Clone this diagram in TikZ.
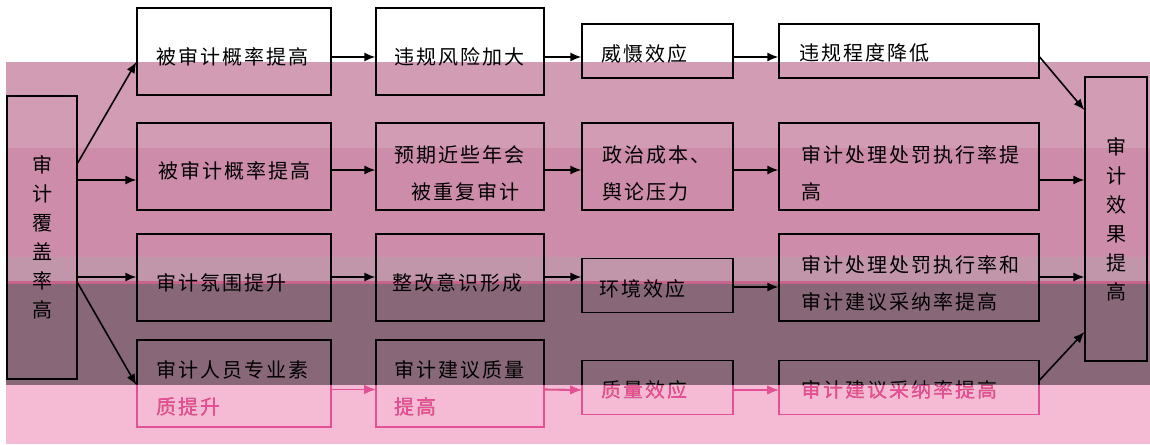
\documentclass[tikz,border=0pt]{standalone}
\usepackage{fontspec}
\newfontfamily\cjk[LetterSpace=10]{Noto Sans CJK SC}
\usetikzlibrary{calc,arrows.meta}
\definecolor{bandA}{RGB}{210,156,180}
\definecolor{bandB}{RGB}{204,140,170}
\definecolor{bandC}{RGB}{193,150,171}
\definecolor{bandS}{RGB}{200,100,140}
\definecolor{bandD}{RGB}{136,104,120}
\definecolor{bandE}{RGB}{245,186,212}
\definecolor{bandEink}{RGB}{228,80,150}
\begin{document}
\begin{tikzpicture}[x=1pt,y=-1pt,
  box/.style={draw=black, line width=1.3pt, inner sep=0pt},
  tall/.style={box, minimum height=87pt},
  short/.style={box, minimum height=54pt},
  txt/.style={anchor=west, inner sep=0pt, align=left, font=\cjk\fontsize{20}{37}\selectfont},
  vtxt/.style={align=center, font=\cjk\fontsize{20}{29}\selectfont},
  arr/.style={line width=1.6pt, -{Latex[length=11pt,width=9pt]}},
]
\useasboundingbox (0,0) rectangle (1150,444);
% background bands
\fill[white] (0,0) rectangle (1150,444);
\fill[bandA] (6,62) rectangle (1150,148);
\fill[bandB] (6,148) rectangle (1150,257);
\fill[bandC] (6,257) rectangle (1150,281);
\fill[bandS] (6,281) rectangle (1150,284);
\fill[bandD] (6,284) rectangle (1150,385);
\fill[bandE] (6,385) rectangle (1150,444);

% side boxes
\node[box, minimum width=70pt, minimum height=283pt, vtxt] (L) at (42,237.5) {审\\计\\覆\\盖\\率\\高};
\node[box, minimum width=62pt, minimum height=284pt, vtxt] (R) at (1116,219) {审\\计\\效\\果\\提\\高};

% row 1
\node[tall, minimum width=194pt] (r1a) at (234,51.5) {};
\node[tall, minimum width=168pt] (r1b) at (460,51.5) {};
\node[short, minimum width=151pt] (r1c) at (657.5,51) {};
\node[short, minimum width=260pt] (r1d) at (909,51) {};
% row 2
\node[tall, minimum width=194pt] (r2a) at (234,166.5) {};
\node[tall, minimum width=168pt] (r2b) at (460,166.5) {};
\node[tall, minimum width=151pt] (r2c) at (657.5,166.5) {};
\node[tall, minimum width=260pt] (r2d) at (909,166.5) {};
% row 3
\node[tall, minimum width=194pt] (r3a) at (234,277.5) {};
\node[tall, minimum width=168pt] (r3b) at (460,277.5) {};
\node[short, minimum width=151pt] (r3c) at (657.5,285.5) {};
\node[tall, minimum width=260pt] (r3d) at (909,277.5) {};
% row 4
\node[tall, minimum width=194pt] (r4a) at (234,383.5) {};
\node[tall, minimum width=168pt] (r4b) at (460,383.5) {};
\node[short, minimum width=151pt] (r4c) at (657.5,387.5) {};
\node[short, minimum width=260pt] (r4d) at (909,387.5) {};

% texts
\node[txt] (t1a) at ($(r1a.west)+(20,5.5)$) {被审计概率提高};
\node[txt] (t1b) at ($(r1b.west)+(19,5)$) {违规风险加大};
\node[txt] (t1c) at ($(r1c.west)+(20,3)$) {威慑效应};
\node[txt] (t1d) at ($(r1d.west)+(21,2)$) {违规程度降低};
\node[txt] (t2a) at ($(r2a.west)+(22,4)$) {被审计概率提高};
\node[txt] (t2b) at ($(r2b.west)+(19,7)$) {预期近些年会\\\hspace*{17pt}被重复审计};
\node[txt] (t2c) at ($(r2c.west)+(21,7)$) {政治成本、\\舆论压力};
\node[txt] (t2d) at ($(r2d.west)+(23,7)$) {审计处理处罚执行率提\\高};
\node[txt] (t3a) at ($(r3a.west)+(20,5.5)$) {审计氛围提升};
\node[txt] (t3b) at ($(r3b.west)+(17,5.5)$) {整改意识形成};
\node[txt] (t3c) at ($(r3c.west)+(18,3.5)$) {环境效应};
\node[txt] (t3d) at ($(r3d.west)+(23,6)$) {审计处理处罚执行率和\\审计建议采纳率提高};
\node[txt] (t4a) at ($(r4a.west)+(20,5)$) {审计人员专业素\\质提升};
\node[txt] (t4b) at ($(r4b.west)+(19,5)$) {审计建议质量\\提高};
\node[txt] (t4c) at ($(r4c.west)+(20,2.5)$) {质量效应};
\node[txt] (t4d) at ($(r4d.west)+(23,2.5)$) {审计建议采纳率提高};

% arrows from left box
\draw[arr] ($(L.east)+(0,-74.5)$) -- ($(r1a.west)+(0,10.5)$);
\draw[arr] ($(L.east)+(0,-57.5)$) -- ($(r2a.west)+(0,13.5)$);
\draw[arr] ($(L.east)+(0,39.5)$) -- ($(r3a.west)+(0,-0.5)$);
\draw[arr] ($(L.east)+(0,45.5)$) -- ($(r4a.west)+(0,1.5)$);
% row 1
\draw[arr] ($(r1a.east)+(0,5.5)$) -- ($(r1b.west)+(0,5.5)$);
\draw[arr] ($(r1b.east)+(0,5.5)$) -- ($(r1c.west)+(0,6)$);
\draw[arr] ($(r1c.east)+(0,6)$) -- ($(r1d.west)+(0,6)$);
% row 2
\draw[arr] ($(r2a.east)+(0,3.5)$) -- ($(r2b.west)+(0,3.5)$);
\draw[arr] ($(r2b.east)+(0,3.5)$) -- ($(r2c.west)+(0,3.5)$);
\draw[arr] ($(r2c.east)+(0,3.5)$) -- ($(r2d.west)+(0,3.5)$);
% row 3
\draw[arr] ($(r3a.east)+(0,-0.5)$) -- ($(r3b.west)+(0,-0.5)$);
\draw[arr] ($(r3b.east)+(0,-0.5)$) -- ($(r3c.west)+(0,-8.5)$);
\draw[arr] ($(r3c.east)+(0,1.5)$) -- ($(r3d.west)+(0,9.5)$);
% row 4
\draw[arr] ($(r4a.east)+(0,6)$) -- ($(r4b.west)+(0,6)$);
\draw[arr] ($(r4b.east)+(0,6)$) -- ($(r4c.west)+(0,2.5)$);
\draw[arr] ($(r4c.east)+(0,2.5)$) -- ($(r4d.west)+(0,2.5)$);
% arrows to right box
\draw[arr] ($(r1d.east)+(0,6)$) -- ($(R.west)+(0,-109)$);
\draw[arr] ($(r2d.east)+(0,13.5)$) -- ($(R.west)+(0,-39)$);
\draw[arr] ($(r3d.east)+(0,-0.5)$) -- ($(R.west)+(0,58)$);
\draw[arr] ($(r4d.east)+(0,-7.5)$) -- ($(R.west)+(0,113)$);

% tint of the lowest band
\begin{scope}[blend mode=lighten]
\fill[bandEink] (6,385) rectangle (1150,444);
\end{scope}
\end{tikzpicture}
\end{document}
